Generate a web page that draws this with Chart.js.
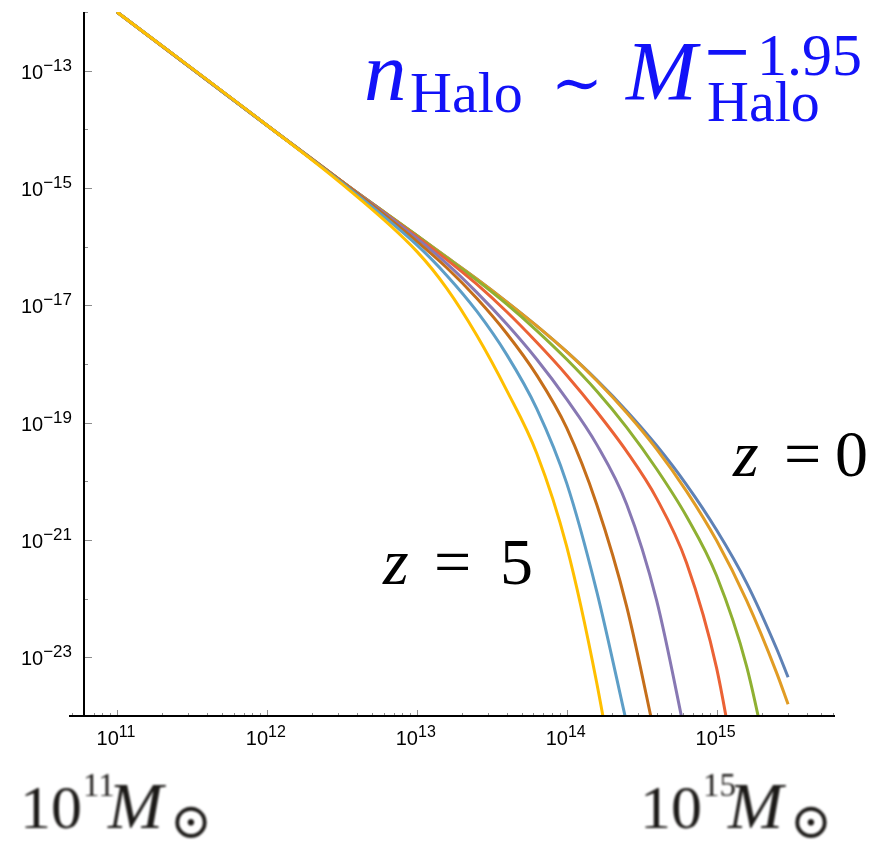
<!DOCTYPE html>
<html>
<head>
<meta charset="utf-8">
<title>Halo mass function</title>
<script src="https://cdn.jsdelivr.net/npm/chart.js@4.4.1/dist/chart.umd.min.js"></script>
<style>
  html, body { margin: 0; padding: 0; background: #fff; }
  canvas { display: block; }
</style>
</head>
<body>
<canvas id="hmf" width="888" height="841"></canvas>
<script>
// log10(M / Msun) sample points shared by all curves
const massExp = [11, 12, 12.5, 13, 13.2, 13.4, 13.6, 13.8, 14, 14.2, 14.4, 14.6, 14.8, 15, 15.2, 15.4, 15.477];

// log10 n_halo per curve, lowest redshift (z = 0) first, z = 5 last.
// Curves stop once they have dropped below the plot floor.
const logN1 = [-12.00, -13.93, -14.89, -15.81, -16.18, -16.55, -16.94, -17.35, -17.79, -18.27, -18.80, -19.39, -20.06, -20.83, -21.73, -22.85, -23.34];
const logN2 = [-12.00, -13.93, -14.89, -15.81, -16.18, -16.55, -16.94, -17.35, -17.79, -18.28, -18.83, -19.45, -20.17, -21.01, -22.03, -23.26, -23.80];
const logN3 = [-12.00, -13.93, -14.89, -15.81, -16.19, -16.57, -16.98, -17.43, -17.92, -18.46, -19.08, -19.79, -20.60, -21.61, -23.15, -25.49];
const logN4 = [-12.00, -13.93, -14.89, -15.83, -16.22, -16.64, -17.11, -17.63, -18.19, -18.81, -19.49, -20.29, -21.39, -23.18, -26.04];
const logN5 = [-12.00, -13.93, -14.89, -15.86, -16.29, -16.78, -17.32, -17.92, -18.60, -19.37, -20.39, -22.03, -24.43];
const logN6 = [-12.00, -13.93, -14.89, -15.91, -16.36, -16.88, -17.48, -18.19, -19.09, -20.39, -22.13, -24.47];
const logN7 = [-12.00, -13.93, -14.91, -15.97, -16.49, -17.10, -17.84, -18.76, -20.03, -21.87, -24.12];
const logN8 = [-12.00, -13.93, -14.93, -16.08, -16.71, -17.51, -18.45, -19.52, -21.11, -23.43, -26.34];

const curves = [logN1, logN2, logN3, logN4, logN5, logN6, logN7, logN8];
const curveColors = ['#5E81B5', '#E19C24', '#8FB032', '#EB6235', '#8778B3', '#C56E1A', '#5D9EC7', '#FFBF00'];

// axis ticks
const yTickExps = [-12, -13, -14, -15, -16, -17, -18, -19, -20, -21, -22, -23, -24];
const yLabelExps = [-13, -15, -17, -19, -21, -23];
const xLabelExps = [11, 12, 13, 14, 15];
const yAxisAt = 6e10; // mass where the vertical axis crosses

const TICK_FONT = '"Liberation Sans", Arial, sans-serif';
const SERIF = '"Liberation Serif", "Times New Roman", serif';

function powerLabel(ctx, exp, x, y, align, baseSize, supSize, supRise) {
  const sup = exp < 0 ? '\u2212' + Math.abs(exp) : String(exp);
  ctx.font = `${baseSize}px ${TICK_FONT}`;
  const wb = ctx.measureText('10').width;
  ctx.font = `${supSize}px ${TICK_FONT}`;
  const ws = ctx.measureText(sup).width;
  const left = align === 'right' ? x - wb - ws : x - (wb + ws) / 2;
  ctx.textAlign = 'left';
  ctx.font = `${baseSize}px ${TICK_FONT}`;
  ctx.fillText('10', left, y);
  ctx.font = `${supSize}px ${TICK_FONT}`;
  ctx.fillText(sup, left + wb, y - supRise);
}

// Mathematica-style axes: crossing axes, inward ticks, 10^n labels
const mathAxes = {
  id: 'mathAxes',
  afterDatasetsDraw(chart) {
    const { ctx, chartArea: area, scales: { x, y } } = chart;
    const x0 = Math.round(x.getPixelForValue(yAxisAt));
    const yb = Math.round(area.bottom);
    ctx.save();

    ctx.lineWidth = 1;
    ctx.strokeStyle = '#8c8c8c';
    ctx.beginPath();
    yTickExps.forEach((e) => {
      const py = Math.round(y.getPixelForValue(10 ** e)) + 0.5;
      const len = yLabelExps.includes(e) ? 8 : 4;
      ctx.moveTo(x0, py);
      ctx.lineTo(x0 + len, py);
    });
    for (let d = 10; d <= 15; d++) {
      for (let k = 1; k <= 9; k++) {
        const v = k * 10 ** d;
        if (v < x.min || v > x.max) continue;
        const px = Math.round(x.getPixelForValue(v)) + 0.5;
        ctx.moveTo(px, yb);
        ctx.lineTo(px, yb - (k === 1 ? 6 : 3));
      }
    }
    ctx.stroke();

    ctx.strokeStyle = '#000';
    ctx.lineWidth = 2;
    ctx.beginPath();
    ctx.moveTo(area.left, yb);
    ctx.lineTo(area.right, yb);
    ctx.moveTo(x0, area.top);
    ctx.lineTo(x0, yb);
    ctx.stroke();

    ctx.fillStyle = '#000';
    ctx.textBaseline = 'alphabetic';
    yLabelExps.forEach((e) => {
      const py = y.getPixelForValue(10 ** e);
      powerLabel(ctx, e, x0 - 12, py + 8, 'right', 20, 17, 8);
    });
    xLabelExps.forEach((e) => {
      const px = x.getPixelForValue(10 ** e);
      powerLabel(ctx, e, px - 1, yb + 29, 'center', 20, 16, 8);
    });

    ctx.restore();
  },
};

// formula and redshift / mass annotations
const annotations = {
  id: 'annotations',
  afterDraw(chart) {
    const { ctx } = chart;
    ctx.save();
    ctx.textAlign = 'left';
    ctx.textBaseline = 'alphabetic';

    // n_Halo ~ M_Halo^-1.95
    ctx.filter = 'blur(0.6px)';
    ctx.fillStyle = '#1212f8';
    ctx.font = `italic 85px ${SERIF}`;
    ctx.fillText('n', 364, 100);
    ctx.font = `58px ${SERIF}`;
    ctx.fillText('Halo', 410, 112);
    ctx.font = '62px "DejaVu Serif"';
    ctx.fillText('\u223C', 551, 104);
    ctx.font = `italic 85px ${SERIF}`;
    ctx.fillText('M', 626, 100);
    ctx.font = `58px ${SERIF}`;
    ctx.fillText('Halo', 707, 121);
    ctx.font = '60px "DejaVu Serif"';
    ctx.fillText('\u2212', 702, 71);
    ctx.font = `60px ${SERIF}`;
    ctx.fillText('1.95', 757, 75);

    // redshift labels
    ctx.filter = 'none';
    ctx.fillStyle = '#000';
    ctx.font = `italic 66px ${SERIF}`;
    ctx.fillText('z', 383, 584);
    ctx.fillText('z', 733, 476);
    ctx.font = `66px ${SERIF}`;
    ctx.fillText('=', 434, 584);
    ctx.fillText('5', 500, 584);
    ctx.fillText('=', 784, 476);
    ctx.fillText('0', 835, 476);

    // mass range labels
    ctx.filter = 'blur(1.1px)';
    ctx.fillStyle = '#1c1a18';
    [[20, '11'], [640, '15']].forEach(([x, exp]) => {
      ctx.font = `62px ${SERIF}`;
      ctx.fillText('10', x, 828);
      ctx.font = `33px ${SERIF}`;
      ctx.fillText(exp, x + 63, 796);
      ctx.font = `italic 66px ${SERIF}`;
      ctx.fillText('M', x + 88, 828);
      ctx.font = '50px "DejaVu Serif"';
      ctx.fillText('\u2299', x + 150, 838);
    });
    ctx.restore();
  },
};

const datasets = curves.map((vals, i) => ({
  label: 'curve ' + (i + 1),
  data: vals.map((v, j) => ({ x: 10 ** massExp[j], y: 10 ** v })),
  borderColor: curveColors[i],
  borderWidth: 3,
  pointRadius: 0,
  fill: false,
  cubicInterpolationMode: 'monotone',
  order: curves.length - i, // higher redshift drawn on top
}));

new Chart(document.getElementById('hmf'), {
  type: 'line',
  data: { datasets },
  options: {
    responsive: false,
    animation: false,
    layout: { padding: { left: 69, top: 12, right: 53, bottom: 125 } },
    plugins: {
      legend: { display: false },
      tooltip: { enabled: false },
    },
    scales: {
      x: { type: 'logarithmic', min: 10 ** 10.68, max: 10 ** 15.79, display: false },
      y: { type: 'logarithmic', min: 1e-24, max: 1e-12, display: false },
    },
  },
  plugins: [mathAxes, annotations],
});
</script>
</body>
</html>
